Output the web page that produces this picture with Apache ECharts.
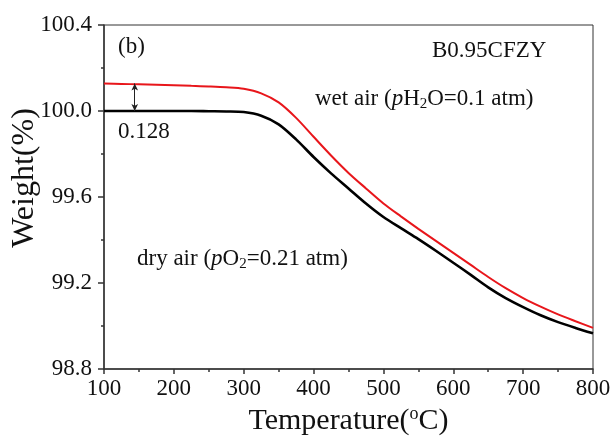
<!DOCTYPE html>
<html><head><meta charset="utf-8">
<script src="https://cdn.jsdelivr.net/npm/echarts@6/dist/echarts.min.js"></script>
<style>html,body{margin:0;padding:0;background:#fff}#c{width:614px;height:439px}</style>
</head><body><div id="c"></div>
<script>
const temps = [100,125,150,175,200,225,250,275,300,325,350,375,400,425,450,475,500,525,550,575,600,625,650,675,700,725,750,775,800];
const dryAir = [100.000,100.000,100.000,100.000,100.000,100.000,99.999,99.998,99.995,99.978,99.938,99.868,99.786,99.710,99.640,99.570,99.507,99.455,99.404,99.350,99.294,99.238,99.180,99.130,99.088,99.050,99.018,98.991,98.966];
const wetAir = [100.128,100.126,100.124,100.122,100.120,100.117,100.114,100.110,100.103,100.082,100.040,99.968,99.880,99.793,99.712,99.640,99.570,99.510,99.452,99.396,99.340,99.284,99.228,99.176,99.130,99.090,99.054,99.022,98.991];
const xTicks = [100,200,300,400,500,600,700,800];
const yTicks = [98.8,99.2,99.6,100.0,100.4];
const arrowT = 144;
const diffLabel = '0.128';

const font = '"Liberation Serif","Times New Roman",serif';
const chart = echarts.init(document.getElementById('c'));
const pair = (xs, ys) => xs.map((x,i)=>[x, ys[i]]);
const rich = {
  a:{fontFamily:font, fontSize:23, fill:'#111'},
  i:{fontFamily:font, fontSize:23, fontStyle:'italic', fill:'#111'},
  s:{fontFamily:font, fontSize:15, fill:'#111', padding:[11,0,0,0]}
};
chart.setOption({
  animation:false,
  backgroundColor:'#fff',
  grid:{left:104, top:25, right:21, bottom:70, show:true, borderColor:'#333', borderWidth:1, outerBoundsMode:'none', containLabel:false},
  xAxis:{type:'value', min:xTicks[0], max:xTicks[xTicks.length-1], interval:100,
    name:'Temperature({sup|o}C)', nameLocation:'middle', nameGap:36,
    nameTextStyle:{fontFamily:font, fontSize:30, color:'#111', rich:{sup:{fontFamily:font, fontSize:18, color:'#111', padding:[0,0,15,0]}}},
    axisLine:{lineStyle:{color:'#333', width:1.5}},
    axisTick:{length:5, lineStyle:{color:'#333', width:1.5}},
    minorTick:{show:true, splitNumber:2, length:3, lineStyle:{color:'#333', width:1.5}},
    splitLine:{show:false},
    axisLabel:{fontFamily:font, fontSize:23, color:'#111', margin:8}},
  yAxis:{type:'value', min:yTicks[0], max:yTicks[yTicks.length-1], interval:0.4,
    axisLine:{show:true, lineStyle:{color:'#333', width:1.5}},
    axisTick:{show:true, length:6, lineStyle:{color:'#333', width:1.5}},
    minorTick:{show:true, splitNumber:2, length:3, lineStyle:{color:'#333', width:1.5}},
    splitLine:{show:false},
    axisLabel:{fontFamily:font, fontSize:23, color:'#111', margin:12, formatter:v=>v.toFixed(1)}},
  series:[
    {type:'line', data:pair(temps, dryAir), smooth:0.3, showSymbol:false, lineStyle:{color:'#000', width:2.6}, z:3,
     markLine:{silent:true, symbol:['arrow','arrow'], symbolSize:[5,7], label:{show:false},
       lineStyle:{color:'#222', width:1, type:'solid'},
       data:[[{coord:[arrowT, dryAir[0]]},{coord:[arrowT, wetAir[0]]}]]}},
    {type:'line', data:pair(temps, wetAir), smooth:0.3, showSymbol:false, lineStyle:{color:'#e8161b', width:2}, z:2}
  ],
  graphic:[
    {type:'text', x:25, y:178, rotation:Math.PI/2, style:{text:'Weight(%)', font:'32px '+font, fill:'#111', align:'center', verticalAlign:'middle'}},
    {type:'text', left:118, top:35, style:{text:'(b)', font:'23px '+font, fill:'#111'}},
    {type:'text', left:432, top:39, style:{text:'B0.95CFZY', font:'23px '+font, fill:'#111'}},
    {type:'text', left:118, top:120, style:{text:diffLabel, font:'23px '+font, fill:'#111'}},
    {type:'text', left:315, top:87, style:{rich, text:'{a|wet air (}{i|p}{a|H}{s|2}{a|O=0.1 atm)}'}},
    {type:'text', left:137, top:247, style:{rich, text:'{a|dry air (}{i|p}{a|O}{s|2}{a|=0.21 atm)}'}}
  ]
});
</script></body></html>
